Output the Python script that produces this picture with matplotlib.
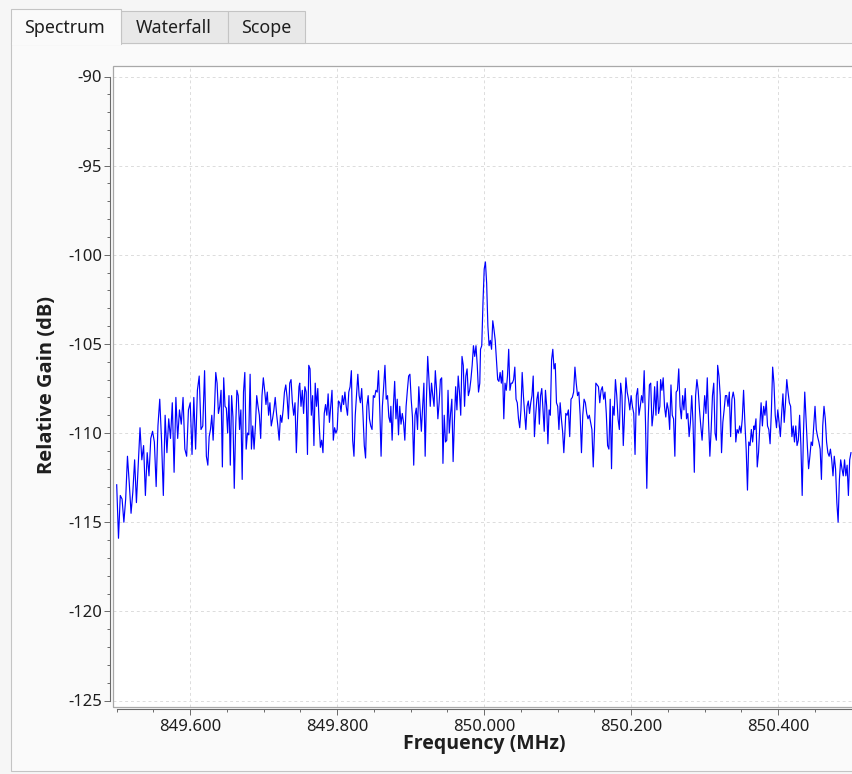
"""
GNU Radio style spectrum tab: relative gain vs frequency around 850 MHz.
Writes out.png (852x774).
"""
import matplotlib
matplotlib.use("Agg")
import matplotlib.pyplot as plt
import numpy as np
from matplotlib.patches import Rectangle
from matplotlib.ticker import FormatStrFormatter, MultipleLocator

plt.rcParams.update({"font.family": ["Noto Sans", "DejaVu Sans"], "axes.unicode_minus": False})

W, H = 852, 774
TABS = ["Spectrum", "Waterfall", "Scope"]
X_LABEL = "Frequency (MHz)"
Y_LABEL = "Relative Gain (dB)"
X_RANGE = (849.5, 850.5)
Y_RANGE = (-125, -90)

# trace, one list per stretch of the band (dB)
seg_a = [-112.9, -115.9, -113.5, -113.7, -115.0, -113.7, -111.3, -112.8, -114.5, -113.3,
         -111.5, -113.9, -111.8, -109.7, -111.5, -110.7, -113.5, -111.1, -112.4, -110.3,
         -109.9, -110.5, -113.0, -109.6, -108.1, -110.4, -113.5, -109.0, -111.1, -109.2,
         -110.3, -108.3, -112.2, -108.0, -110.3, -108.7, -109.5, -108.0, -110.9, -111.3,
         -108.7, -108.3, -111.2, -108.0, -110.9, -107.6, -106.8, -109.8, -109.6, -106.5, -111.3]
seg_b = [-111.8, -110.2, -109.8, -109.0, -110.4, -108.7, -106.6, -107.2, -108.9, -108.5,
         -107.6, -111.9, -106.9, -108.5, -108.6, -110.0, -107.9, -111.8, -107.9, -109.1,
         -113.1, -109.8, -107.6, -107.9, -109.8, -108.7, -112.6, -107.7, -106.6, -110.9,
         -110.0, -110.1, -106.7, -110.9, -109.6, -110.9, -109.6, -107.9, -108.5, -109.0,
         -110.3, -107.9, -106.9, -107.6, -108.4, -107.7, -109.0, -108.3, -109.6, -109.2,
         -108.7, -108.0, -108.9, -109.6, -110.4, -109.0, -109.4, -108.7, -107.7, -107.3,
         -108.0, -109.2, -107.2, -107.0, -108.3, -109.0, -108.3, -111.1, -109.0, -107.4]
seg_c = [-107.2, -108.5, -107.6, -108.9, -107.4, -107.7, -111.2, -106.2, -106.4, -109.0,
         -107.9, -110.7, -107.2, -108.5, -107.5, -109.4, -110.8, -110.4, -111.1, -108.9,
         -108.4, -109.0, -107.8, -109.4, -108.5, -107.6, -110.4, -109.7, -110.0, -109.8,
         -108.2, -108.3, -108.8, -107.9, -108.4, -107.7, -108.5, -109.0, -107.7, -107.4,
         -106.5, -110.4, -111.3, -109.0, -107.8, -106.7, -107.9, -108.3, -107.5, -109.0,
         -110.7, -111.4, -108.5, -107.9, -109.2, -109.6, -109.8, -107.9, -108.0, -107.6,
         -107.7, -106.5, -108.7, -111.3, -108.5, -107.4, -106.2, -108.1, -107.9, -109.1, -109.4]
seg_d = [-108.5, -110.4, -108.5, -107.1, -109.2, -108.1, -110.1, -108.5, -109.5, -108.9,
         -109.4, -110.4, -108.5, -107.6, -106.8, -106.7, -108.1, -109.1, -111.8, -109.0,
         -108.6, -109.8, -107.4, -108.7, -109.9, -108.5, -107.2, -111.3, -108.1, -105.7,
         -107.0, -108.5, -107.2, -107.9, -108.5, -106.5, -107.6, -109.2, -108.3, -107.0,
         -106.9, -111.7, -109.0, -110.5, -110.4, -107.6, -110.0, -108.9, -108.1, -111.6,
         -109.4, -107.4, -108.7, -106.8, -107.7, -109.0, -105.7, -106.2, -108.5, -106.8,
         -106.4, -107.9, -107.6, -107.0, -106.2, -105.1, -105.7, -105.1, -106.2, -107.7, -107.2]
seg_e = [-105.3, -105.1, -102.7, -100.8, -100.4, -101.6, -104.0, -105.1, -104.8, -105.3,
         -103.7, -104.2, -104.8, -105.9, -107.0, -107.1, -106.6, -107.2, -106.5, -109.2,
         -107.2, -107.6, -106.8, -105.3, -107.6, -107.2, -107.2, -107.0, -106.3, -108.1,
         -108.3, -109.2, -109.7, -108.7, -106.6, -107.9, -108.9, -109.8, -108.5, -108.2,
         -108.9, -108.3, -107.9, -106.8, -110.2, -109.0, -108.1, -107.7, -109.5, -107.9,
         -107.5, -108.7, -109.9, -107.6, -108.5, -110.6, -108.7, -109.0, -105.9, -105.3,
         -106.4, -106.1, -108.3, -108.5, -109.8, -108.3, -109.2, -109.9, -111.1, -109.8]
seg_f = [-108.9, -109.0, -108.7, -110.2, -108.1, -108.0, -107.7, -106.3, -107.2, -107.9,
         -107.7, -109.0, -111.1, -109.0, -108.1, -108.3, -108.9, -109.2, -109.0, -109.4,
         -109.8, -111.9, -109.8, -107.2, -107.3, -107.4, -108.3, -107.6, -107.4, -108.1,
         -107.7, -108.9, -110.7, -110.9, -108.1, -112.0, -108.5, -109.0, -107.0, -107.9,
         -109.2, -109.8, -107.2, -107.9, -110.7, -108.9, -106.9, -107.7, -108.1, -108.7,
         -107.9, -108.5, -108.9, -111.2, -107.9, -107.5, -109.0, -108.5, -107.9, -108.3,
         -106.5, -109.4, -113.1, -109.4, -107.3, -107.2, -109.6, -108.9, -107.4, -109.0,
         -107.1, -108.9, -108.5]
seg_g = [-107.0, -107.6, -106.9, -108.5, -109.1, -108.3, -108.7, -109.8, -107.3, -109.0,
         -109.2, -111.3, -107.7, -107.6, -106.4, -108.5, -109.2, -107.9, -108.7, -107.5,
         -109.2, -108.9, -110.2, -109.4, -107.9, -109.4, -112.2, -107.9, -107.0, -107.6,
         -108.7, -109.6, -110.4, -109.2, -107.9, -108.9, -106.9, -109.4, -111.3, -109.8,
         -107.9, -107.2, -110.0, -110.4, -106.2, -106.8, -107.9, -111.1, -109.4, -108.7,
         -107.9, -107.9, -108.5, -107.7, -110.2, -108.1, -107.7, -108.1, -110.5, -109.8,
         -110.0, -109.6, -110.0, -109.2, -107.6, -109.4, -110.9, -113.2, -110.5, -110.7,
         -109.8, -110.5, -109.6]
seg_h = [-109.8, -109.2, -111.9, -111.1, -109.6, -108.3, -109.6, -108.5, -109.0, -108.2,
         -109.6, -109.8, -110.6, -108.8, -106.3, -107.2, -109.0, -109.7, -108.7, -109.4,
         -110.2, -108.9, -107.8, -109.4, -108.3, -107.0, -107.7, -108.3, -108.5, -110.2,
         -109.6, -110.5, -109.6, -110.7, -110.4, -109.0, -110.7, -113.5, -110.0, -107.7,
         -109.2, -110.7, -112.0, -111.3, -110.5, -110.7, -109.6, -108.5, -109.8, -110.2,
         -110.5, -110.9, -112.6, -109.6, -108.5, -109.2, -110.5, -111.1, -111.3, -110.9,
         -111.5, -112.4, -111.3, -112.0, -113.9, -115.0, -112.6, -111.5, -112.0, -112.4,
         -111.5, -112.4, -111.8, -113.5, -111.5, -111.1]
# frequency span (MHz) covered by each stretch
seg_span = [(849.500, 849.622), (849.624, 849.748), (849.749, 849.872), (849.873, 849.994),
            (849.995, 850.110), (850.111, 850.239), (850.240, 850.367), (850.368, 850.499)]
segments = [seg_a, seg_b, seg_c, seg_d, seg_e, seg_f, seg_g, seg_h]

freq = np.concatenate([np.linspace(a, b, len(s)) for (a, b), s in zip(seg_span, segments)])
gain = np.concatenate(segments)

BG, PANEL, TAB_BG, BORDER = "#f6f6f6", "#fafafa", "#e8e8e8", "#c4c4c4"
TXT = "#1e1e1e"
BOLD = ["Open Sans", "DejaVu Sans"]


def px_rect(fig, x0, y0, x1, y1, **kw):
    fig.patches.append(Rectangle((x0 / W, 1 - y1 / H), (x1 - x0) / W, (y1 - y0) / H,
                                 transform=fig.transFigure, zorder=-5, **kw))


fig = plt.figure(figsize=(W / 100, H / 100), dpi=100, facecolor=BG)

# tab widget chrome
px_rect(fig, 11, 43, 870, 771, facecolor=PANEL, edgecolor=BORDER, lw=0.8)
px_rect(fig, 121, 11, 228, 43, facecolor=TAB_BG, edgecolor=BORDER, lw=0.8)
px_rect(fig, 228, 11, 305, 43, facecolor=TAB_BG, edgecolor=BORDER, lw=0.8)
px_rect(fig, 11, 9, 121, 44, facecolor=PANEL, edgecolor=BORDER, lw=0.8)
px_rect(fig, 12, 42, 120.5, 45, facecolor=PANEL, edgecolor="none")
for name, cx in zip(TABS, [64.5, 173.5, 266.5]):
    fig.text(cx / W, 1 - 28 / H, name, ha="center", va="center", fontsize=12.8, color=TXT)

# plot canvas: 113..(off right edge) x 66..707 px
x_left, x_right = 113, 858
y_top, y_bot = 66, 707
ax = fig.add_axes([x_left / W, 1 - y_bot / H, (x_right - x_left) / W, (y_bot - y_top) / H])
ppx = (X_RANGE[1] - X_RANGE[0]) / 735.0          # MHz per pixel
ppy = (Y_RANGE[1] - Y_RANGE[0]) / 624.0          # dB per pixel
ax.set_xlim(X_RANGE[0] - 3.7 * ppx, X_RANGE[0] + (x_right - 116.7) * ppx)
ax.set_ylim(Y_RANGE[0] - 6.5 * ppy, Y_RANGE[1] + 10.5 * ppy)
ax.set_facecolor("white")

ax.plot(freq, gain, color="#0000ff", lw=0.85, zorder=3)

ax.xaxis.set_major_locator(MultipleLocator(0.2))
ax.xaxis.set_minor_locator(MultipleLocator(0.05))
ax.yaxis.set_major_locator(MultipleLocator(5))
ax.yaxis.set_minor_locator(MultipleLocator(1))
ax.xaxis.set_major_formatter(FormatStrFormatter("%.3f"))
ax.yaxis.set_major_formatter(FormatStrFormatter("%d"))
ax.grid(which="major", color="#dcdcdc", lw=0.7, linestyle=(0, (3, 3)), zorder=1)

for side in ["top", "right"]:
    ax.spines[side].set_visible(False)
ax.spines["left"].set_position(("outward", 2.2))
ax.spines["bottom"].set_position(("outward", 1.5))
ax.spines["left"].set_bounds(*Y_RANGE)
ax.spines["bottom"].set_bounds(*X_RANGE)
for side in ["left", "bottom"]:
    ax.spines[side].set_color("#6a6a6a")
    ax.spines[side].set_linewidth(0.8)
ax.tick_params(which="major", direction="out", length=4.3, width=0.7, color="#6a6a6a",
               labelsize=12, labelcolor=TXT, pad=1.5)
ax.tick_params(axis="x", which="major", pad=2.5)
ax.tick_params(which="minor", direction="out", length=2.2, width=0.7, color="#6a6a6a")

# canvas frame
ax.add_patch(Rectangle((0, 0), 1, 1, transform=ax.transAxes, fill=False,
                       edgecolor="#a8a8a8", lw=0.9, clip_on=False, zorder=4))

fig.text(484 / W, 1 - 744 / H, X_LABEL, ha="center", va="center", fontsize=14,
         fontweight="bold", color=TXT, family=BOLD)
fig.text(47 / W, 1 - 385 / H, Y_LABEL, ha="center", va="center", rotation=90,
         fontsize=14.5, fontweight="bold", color=TXT, family=BOLD)

fig.savefig("out.png", dpi=100, facecolor=BG)
